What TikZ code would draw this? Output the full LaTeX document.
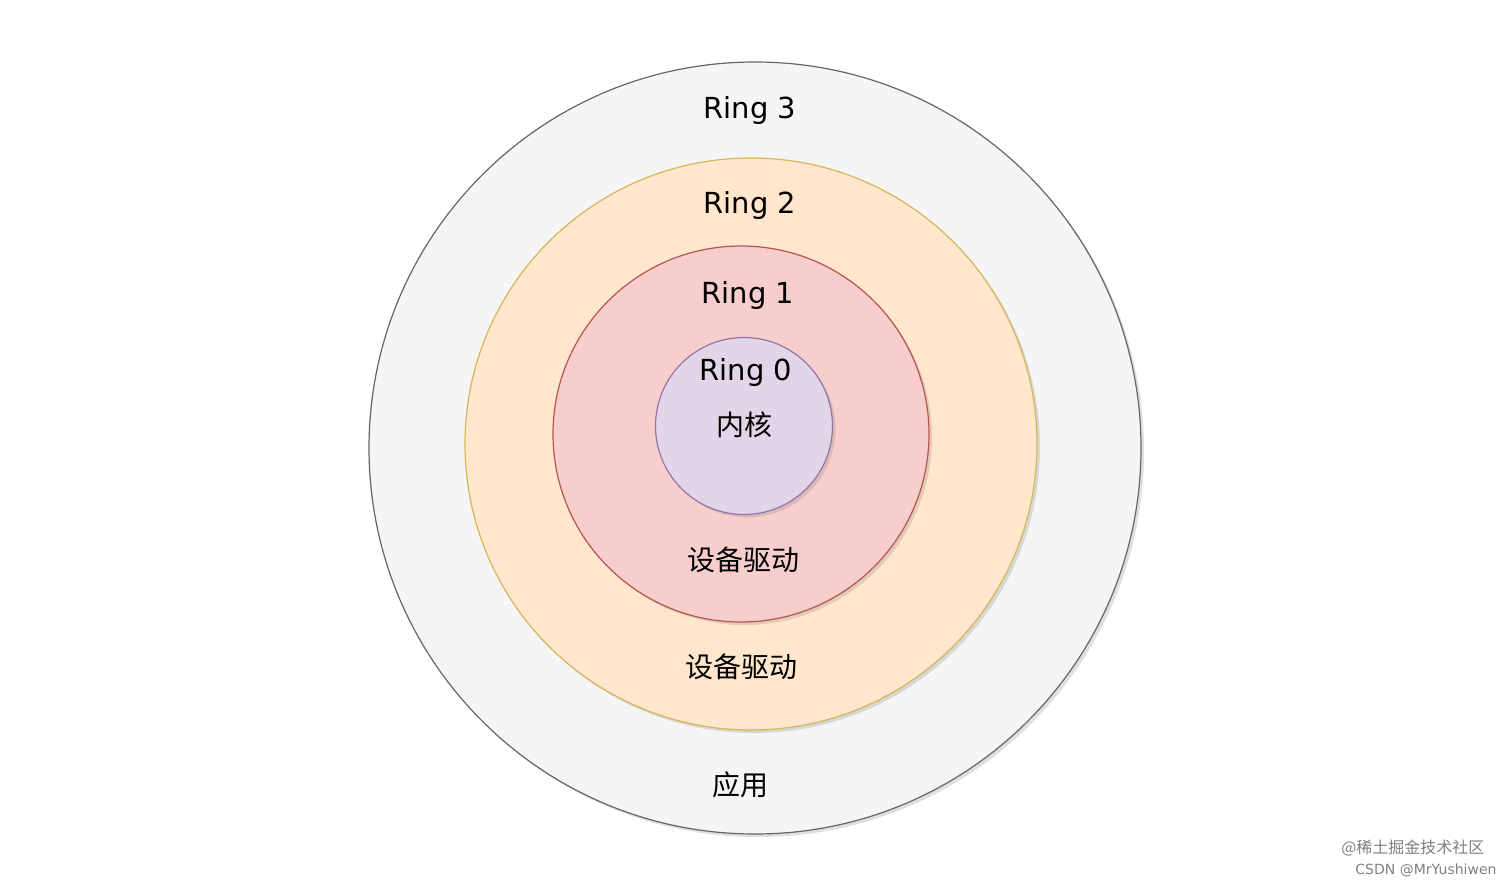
\documentclass[tikz,border=0pt]{standalone}
\usepackage{fontspec}
\setmainfont{DejaVu Sans}
\newfontfamily\cjk{Noto Sans CJK SC}
\usetikzlibrary{shadows}
\definecolor{gF}{HTML}{F5F5F5}\definecolor{gS}{HTML}{666666}
\definecolor{oF}{HTML}{FFE6CC}\definecolor{oS}{HTML}{D6B656}
\definecolor{rF}{HTML}{F8CECC}\definecolor{rS}{HTML}{B85450}
\definecolor{pF}{HTML}{E1D5E7}\definecolor{pS}{HTML}{9673A6}
\begin{document}
\begin{tikzpicture}[x=1pt,y=-1pt,
  ring/.style={circle,inner sep=0pt,line width=1.2pt,drop shadow={shadow xshift=3pt,shadow yshift=-3pt,opacity=0.25}},
  lbl/.style={font=\fontsize{29}{34}\selectfont},
  clbl/.style={font=\cjk\fontsize{28}{34}\selectfont},
  wm/.style={font=\cjk\fontsize{16}{19}\selectfont,text=gray}]
\useasboundingbox[fill=white] (0,0) rectangle (1512,883);
\node[ring,draw=gS,fill=gF,minimum size=772pt] (r3) at (755,448) {};
\node[ring,draw=oS,fill=oF,minimum size=572pt] (r2) at (751,444) {};
\node[ring,draw=rS,fill=rF,minimum size=376pt] (r1) at (741,434) {};
\node[ring,draw=pS,fill=pF,minimum size=177pt] (r0) at (744,426) {};
\node[lbl] (t3) at (750,110) {Ring 3};
\node[lbl] (t2) at (750,205) {Ring 2};
\node[lbl] (t1) at (748,295) {Ring 1};
\node[lbl] (t0) at (746,372) {Ring 0};
\node[clbl] (k) at (744,425) {内核};
\node[clbl] (d1) at (743,560) {设备驱动};
\node[clbl] (d2) at (741,667) {设备驱动};
\node[clbl] (app) at (740,785) {应用};
\node[wm,anchor=east] (w1) at (1488,848) {@稀土掘金技术社区};
\node[wm,anchor=east,font=\fontsize{14}{17}\selectfont] (w2) at (1500,870) {CSDN @MrYushiwen};
\end{tikzpicture}
\end{document}
